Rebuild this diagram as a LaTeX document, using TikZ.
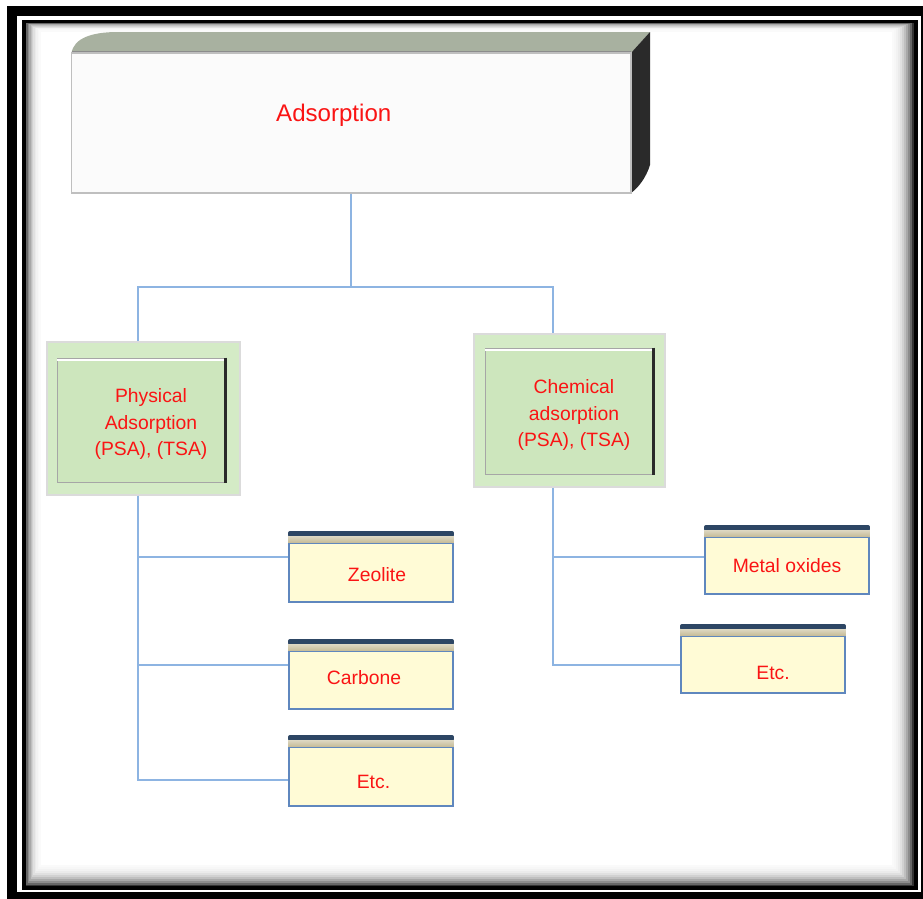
\documentclass[tikz,border=0pt]{standalone}
\usepackage{fontspec}
\setmainfont{Liberation Sans}
\definecolor{tx}{RGB}{250,20,20}
\definecolor{lk}{RGB}{141,180,226}
\definecolor{tp}{RGB}{168,177,160}
\definecolor{sd}{RGB}{42,42,42}
\definecolor{fr}{RGB}{251,251,251}
\definecolor{go}{RGB}{212,235,198}
\definecolor{gi}{RGB}{205,230,189}
\definecolor{yb}{RGB}{255,251,214}
\definecolor{bl}{RGB}{95,135,190}
\definecolor{nv}{RGB}{45,70,100}
\definecolor{tn}{RGB}{200,190,155}

\begin{document}
\begin{tikzpicture}[x=0.02cm, y=-0.02cm,
    link/.style={draw=lk, line width=0.04cm},
    lbl/.style={text=tx, font=\fontsize{11}{15}\selectfont, align=center},
    gout/.style={draw=black!14, fill=go, line width=0.04cm, minimum width=3.86cm, minimum height=3.06cm},
    gin/.style={draw=black!35, fill=gi, line width=0.02cm, minimum width=3.36cm, minimum height=2.5cm},
    ybox/.style={draw=bl, fill=yb, line width=0.04cm, minimum width=3.28cm, minimum height=1.16cm}]
      \useasboundingbox (0,0) rectangle (923,899);
      \fill[white] (0,0) rectangle (923,899);
      \draw[line width=0.2cm] (12,11) rectangle (926,897);
      \foreach \i/\g in {0/80,1/60,2/45,3/34,4/25,5/18,6/12,7/8,8/5,9/3,10/2}
        \draw[black!\g, line width=0.04cm] (26+1.4*\i,23+0.8*\i) rectangle (913-2*\i,886-2*\i);
      \draw[line width=0.08cm] (24,21.5) rectangle (915.5,887.5);

      \fill[tp] (71.5,53) .. controls (74,38) and (92,32) .. (118,32) -- (650,32) -- (631,53) -- cycle;
      \fill[sd] (631,53) -- (650,32) -- (650,165) .. controls (646,178) and (638,188) .. (631,193) -- cycle;
      \draw[black!45, line width=0.05cm] (72,52) -- (631,52);
      \node[draw=black!25, fill=fr, line width=0.03cm, minimum width=11.19cm, minimum height=2.8cm,
        label={[lbl, font=\fontsize{13.7}{16}\selectfont, xshift=-0.35cm, yshift=0.16cm]center:Adsorption}] (A) at (351.25,123) {};

      \node[gout] (P) at (143.5,418.5) {};
      \node[gin, label={[lbl, xshift=0.2cm, yshift=-0.07cm]center:{Physical\\Adsorption\\(PSA), (TSA)}}] (Pi) at (141,420.5) {};
      \node[gout, minimum width=3.82cm] (C) at (569.5,410.5) {};
      \node[gin, minimum height=2.54cm, label={[lbl, xshift=0.1cm, yshift=-0.07cm]center:{Chemical\\adsorption\\(PSA), (TSA)}}] (Ci) at (569,411.5) {};
      \foreach \nm in {Pi,Ci}{
        \draw[white, line width=0.04cm] ([yshift=-0.05cm]\nm.north west) -- ([yshift=-0.05cm]\nm.north east);
        \draw[sd, line width=0.07cm] (\nm.north east) -- (\nm.south east);
      }

      \node[ybox, minimum height=1.18cm, label={[lbl, xshift=0.12cm, yshift=-0.05cm]center:Zeolite}] (Z) at (371,572.5) {};
      \node[ybox, label={[lbl, xshift=-0.14cm, yshift=0.04cm]center:Carbone}] (K) at (371,680) {};
      \node[ybox, minimum height=1.18cm, label={[lbl, xshift=0.05cm, yshift=-0.11cm]center:Etc.}] (E) at (371,776.5) {};
      \node[ybox, minimum height=1.14cm, label={[lbl]center:Metal oxides}] (M) at (787,565.5) {};
      \node[ybox, minimum height=1.14cm, label={[lbl, xshift=0.2cm, yshift=-0.17cm]center:Etc.}] (F) at (763,664.5) {};
      \foreach \nm in {Z,K,E,M,F}{
        \fill[nv, rounded corners=0.04cm] ([yshift=0.1cm]\nm.north west) rectangle ([yshift=0.22cm]\nm.north east);
        \shade[top color=tn!60, bottom color=tn] (\nm.north west) rectangle ([yshift=0.12cm]\nm.north east);
      }

      \coordinate (J) at (351.25,287);
      \draw[link] (A.south) -- (J);
      \draw[link] (J) -| ([xshift=-0.11cm]P.north);
      \draw[link] (J) -| ([xshift=-0.33cm]C.north);
      \draw[link] ([xshift=-0.11cm]P.south) |- ([yshift=0.31cm]Z.west);
      \draw[link] ([xshift=-0.11cm]P.south) |- ([yshift=0.3cm]K.west);
      \draw[link] ([xshift=-0.11cm]P.south) |- ([yshift=-0.07cm]E.west);
      \draw[link] ([xshift=-0.33cm]C.south) |- ([yshift=0.17cm]M.west);
      \draw[link] ([xshift=-0.33cm]C.south) |- (F.west);
    \end{tikzpicture}
\end{document}
